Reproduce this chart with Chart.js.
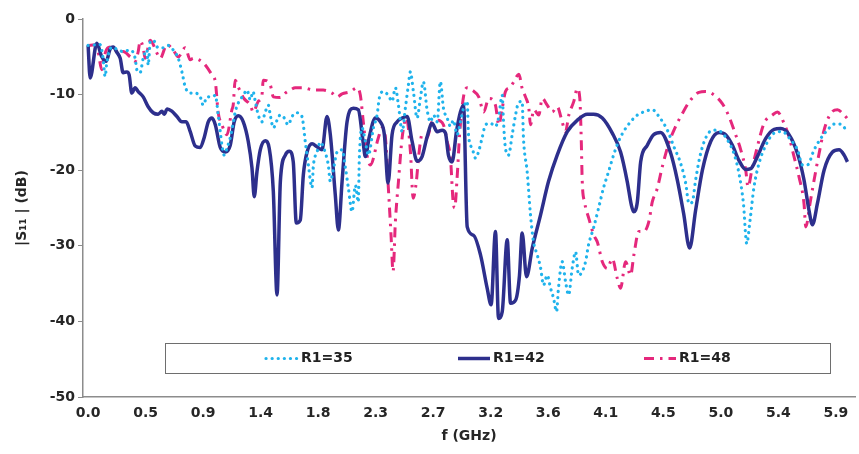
<!DOCTYPE html>
<html>
<head>
<meta charset="utf-8">
<script src="https://cdn.jsdelivr.net/npm/chart.js@4"></script>
<style>
  html, body { margin: 0; padding: 0; background: #fff; }
  canvas { display: block; }
</style>
</head>
<body>
<canvas id="s11Chart" width="859" height="454"></canvas>
<script>
// x axis labels, one every 0.45 GHz (as printed on the figure)
const tickLabels = ['0.0', '0.5', '0.9', '1.4', '1.8', '2.3', '2.7', '3.2', '3.6', '4.1', '4.5', '5.0', '5.4', '5.9'];
const tickStep = 0.45;

const seriesNames = ['R1=35', 'R1=42', 'R1=48'];

// [f (GHz), |S11| (dB)]
const r35 = [[0,-3.5],[0.094,-3.4],[0.117,-5.2],[0.133,-7.6],[0.146,-5.8],[0.186,-3.7],[0.235,-4.1],[0.274,-4.3],[0.329,-4.1],[0.368,-5.2],[0.381,-6.7],[0.407,-7.1],[0.431,-5.2],[0.460,-4.1],[0.470,-6.1],[0.486,-3.0],[0.509,-2.8],[0.548,-3.8],[0.587,-3.8],[0.626,-3.5],[0.666,-4.1],[0.705,-5.2],[0.734,-7.0],[0.760,-9.0],[0.799,-9.8],[0.838,-9.8],[0.877,-10.3],[0.901,-11.4],[0.930,-10.3],[0.969,-10.3],[0.995,-10.1],[1.018,-12.7],[1.034,-14.9],[1.047,-16.7],[1.065,-18.0],[1.086,-17.1],[1.112,-15.7],[1.133,-14.0],[1.151,-12.3],[1.175,-11.1],[1.214,-10.1],[1.243,-9.4],[1.269,-10.7],[1.290,-9.6],[1.308,-10.9],[1.331,-12.7],[1.360,-13.6],[1.386,-12.3],[1.410,-11.4],[1.425,-12.7],[1.449,-14.4],[1.478,-13.4],[1.503,-12.7],[1.527,-12.9],[1.566,-14.0],[1.595,-12.9],[1.634,-12.4],[1.673,-12.9],[1.699,-16.2],[1.723,-19.3],[1.752,-22.3],[1.762,-19.5],[1.791,-17.6],[1.817,-16.3],[1.856,-17.7],[1.879,-19.3],[1.895,-21.5],[1.918,-20.0],[1.948,-17.6],[1.987,-17.3],[2.013,-19.7],[2.036,-22.3],[2.065,-25.5],[2.091,-22.0],[2.114,-24.2],[2.122,-18.4],[2.143,-14.4],[2.169,-16.2],[2.193,-18.0],[2.232,-14.4],[2.261,-12.7],[2.279,-10.4],[2.310,-9.6],[2.349,-10.1],[2.378,-10.9],[2.404,-9.1],[2.428,-11.4],[2.457,-14.9],[2.482,-11.8],[2.506,-8.7],[2.521,-7.0],[2.545,-9.6],[2.574,-13.1],[2.600,-10.4],[2.623,-8.3],[2.652,-12.0],[2.678,-13.6],[2.702,-12.7],[2.731,-13.6],[2.756,-8.3],[2.780,-11.8],[2.809,-13.1],[2.835,-14.2],[2.858,-13.4],[2.887,-15.3],[2.913,-13.6],[2.937,-11.8],[2.966,-10.9],[2.976,-15.3],[3.005,-17.1],[3.031,-18.4],[3.054,-17.6],[3.083,-15.7],[3.109,-14.0],[3.148,-13.8],[3.187,-14.2],[3.211,-13.1],[3.240,-10.1],[3.250,-13.6],[3.265,-17.1],[3.289,-18.0],[3.318,-15.3],[3.344,-12.7],[3.367,-11.1],[3.396,-10.9],[3.406,-15.7],[3.435,-20.2],[3.461,-25.9],[3.485,-29.5],[3.514,-31.2],[3.540,-32.9],[3.563,-35.2],[3.592,-33.9],[3.618,-35.6],[3.641,-36.9],[3.665,-38.7],[3.680,-35.6],[3.709,-32.1],[3.735,-34.7],[3.759,-36.5],[3.788,-32.9],[3.814,-30.8],[3.837,-33.9],[3.866,-33.4],[3.892,-32.1],[3.915,-29.9],[3.955,-27.6],[3.994,-25.0],[4.033,-22.3],[4.072,-20.2],[4.111,-18.0],[4.150,-16.2],[4.189,-14.9],[4.244,-13.6],[4.297,-12.7],[4.346,-12.3],[4.414,-12.0],[4.466,-12.9],[4.532,-14.7],[4.583,-16.9],[4.636,-19.1],[4.675,-21.7],[4.701,-24.4],[4.727,-24.2],[4.753,-21.3],[4.792,-17.8],[4.845,-15.3],[4.897,-14.7],[4.949,-14.9],[5.002,-16.0],[5.053,-17.8],[5.092,-20.4],[5.127,-24.4],[5.153,-29.7],[5.179,-26.6],[5.210,-22.2],[5.249,-19.1],[5.302,-16.7],[5.367,-15.1],[5.432,-14.9],[5.497,-16.0],[5.550,-17.3],[5.589,-19.3],[5.628,-19.3],[5.680,-17.3],[5.732,-15.8],[5.784,-14.7],[5.836,-13.9],[5.888,-13.9],[5.928,-14.6]];

const r42 = [[0,-3.5],[0.016,-7.8],[0.068,-3.2],[0.107,-5.0],[0.141,-5.6],[0.172,-4.0],[0.196,-3.7],[0.225,-4.4],[0.251,-5.2],[0.274,-7.1],[0.303,-7.0],[0.321,-7.4],[0.342,-9.8],[0.368,-9.1],[0.392,-9.6],[0.431,-10.3],[0.470,-11.6],[0.509,-12.4],[0.548,-12.6],[0.577,-12.2],[0.595,-12.6],[0.619,-11.9],[0.655,-12.2],[0.695,-12.9],[0.734,-13.6],[0.767,-13.6],[0.799,-14.9],[0.838,-16.8],[0.877,-17.0],[0.908,-15.7],[0.940,-13.6],[0.969,-13.1],[0.995,-14.0],[1.034,-17.0],[1.073,-17.6],[1.112,-16.7],[1.143,-13.6],[1.175,-12.8],[1.214,-13.6],[1.253,-16.2],[1.282,-19.7],[1.300,-23.5],[1.321,-20.2],[1.347,-17.3],[1.386,-16.1],[1.417,-17.1],[1.449,-22.8],[1.478,-36.5],[1.504,-21.5],[1.543,-18.0],[1.574,-17.5],[1.605,-18.9],[1.629,-27.0],[1.660,-26.6],[1.684,-20.6],[1.713,-17.6],[1.752,-16.5],[1.791,-16.9],[1.830,-17.3],[1.869,-12.9],[1.895,-15.3],[1.934,-23.3],[1.958,-27.9],[1.987,-21.5],[2.026,-13.6],[2.075,-11.8],[2.114,-12.0],[2.151,-16.2],[2.169,-18.2],[2.200,-15.6],[2.247,-13.1],[2.286,-13.6],[2.318,-15.3],[2.347,-21.7],[2.378,-15.3],[2.417,-13.6],[2.457,-13.1],[2.496,-12.9],[2.535,-16.2],[2.574,-18.8],[2.613,-18.2],[2.652,-15.6],[2.691,-13.8],[2.731,-14.9],[2.770,-14.7],[2.796,-15.1],[2.819,-18.0],[2.848,-18.9],[2.882,-14.9],[2.913,-12.3],[2.937,-11.4],[2.966,-27.5],[3.015,-28.6],[3.070,-31.2],[3.122,-35.6],[3.153,-37.8],[3.187,-28.1],[3.211,-39.6],[3.240,-38.7],[3.279,-29.2],[3.305,-37.6],[3.344,-37.2],[3.375,-33.9],[3.396,-28.3],[3.430,-34.1],[3.475,-30.3],[3.540,-25.9],[3.602,-21.5],[3.670,-18.0],[3.749,-14.9],[3.827,-13.4],[3.905,-12.6],[3.955,-12.6],[4.023,-13.1],[4.101,-15.1],[4.166,-17.6],[4.218,-21.5],[4.250,-24.6],[4.268,-25.5],[4.297,-24.2],[4.323,-18.9],[4.375,-16.7],[4.424,-15.3],[4.479,-15.0],[4.557,-17.7],[4.610,-21.3],[4.659,-25.7],[4.706,-30.3],[4.753,-25.3],[4.806,-20.0],[4.871,-16.2],[4.936,-15.0],[4.988,-15.3],[5.041,-16.7],[5.092,-18.7],[5.145,-19.9],[5.184,-19.8],[5.236,-18.2],[5.302,-15.8],[5.367,-14.6],[5.419,-14.5],[5.484,-15.3],[5.550,-17.8],[5.601,-21.3],[5.640,-25.3],[5.667,-27.2],[5.706,-24.4],[5.758,-20.0],[5.824,-17.6],[5.875,-17.3],[5.915,-18.0],[5.941,-18.9]];

const r48 = [[0,-3.5],[0.055,-3.4],[0.078,-4.3],[0.107,-6.7],[0.117,-5.6],[0.157,-3.8],[0.196,-3.7],[0.235,-4.5],[0.274,-4.3],[0.329,-5.0],[0.368,-5.6],[0.392,-4.3],[0.407,-2.9],[0.431,-3.8],[0.446,-5.2],[0.486,-2.8],[0.538,-4.5],[0.564,-5.2],[0.616,-3.4],[0.666,-4.1],[0.705,-5.0],[0.760,-3.8],[0.799,-5.4],[0.822,-5.2],[0.901,-5.8],[0.969,-7.4],[0.995,-8.3],[1.018,-12.4],[1.047,-14.0],[1.086,-15.3],[1.125,-12.0],[1.135,-11.4],[1.151,-8.1],[1.175,-9.0],[1.214,-10.4],[1.269,-11.4],[1.292,-12.3],[1.331,-10.9],[1.360,-10.1],[1.370,-8.1],[1.425,-8.7],[1.449,-10.3],[1.503,-10.4],[1.543,-9.8],[1.582,-9.4],[1.621,-9.1],[1.684,-9.1],[1.762,-9.4],[1.840,-9.4],[1.908,-9.8],[1.948,-10.3],[1.987,-9.9],[2.052,-9.6],[2.104,-9.1],[2.130,-10.1],[2.153,-13.6],[2.182,-18.0],[2.208,-19.3],[2.271,-15.7],[2.300,-14.4],[2.326,-15.7],[2.349,-22.3],[2.370,-28.6],[2.386,-33.4],[2.404,-26.8],[2.428,-21.5],[2.457,-15.7],[2.490,-13.1],[2.522,-17.6],[2.543,-23.7],[2.568,-21.5],[2.587,-18.0],[2.613,-15.3],[2.652,-15.7],[2.691,-13.6],[2.731,-13.4],[2.780,-14.0],[2.809,-16.2],[2.835,-18.4],[2.856,-24.2],[2.868,-25.0],[2.887,-21.0],[2.908,-14.9],[2.939,-10.1],[2.966,-9.1],[3.005,-9.4],[3.056,-10.3],[3.095,-12.3],[3.135,-10.5],[3.187,-11.4],[3.213,-14.0],[3.240,-11.8],[3.265,-9.6],[3.305,-9.0],[3.330,-8.3],[3.370,-7.3],[3.396,-9.2],[3.422,-10.3],[3.448,-11.8],[3.461,-14.0],[3.487,-12.0],[3.526,-12.7],[3.553,-10.5],[3.592,-11.4],[3.631,-12.3],[3.670,-11.6],[3.709,-13.6],[3.735,-14.9],[3.761,-12.7],[3.800,-10.9],[3.827,-9.2],[3.847,-10.5],[3.858,-15.8],[3.866,-21.5],[3.884,-24.2],[3.918,-26.4],[3.957,-28.6],[3.984,-29.5],[4.023,-32.1],[4.062,-33.0],[4.101,-31.7],[4.140,-34.3],[4.166,-35.6],[4.205,-32.1],[4.244,-33.9],[4.270,-31.2],[4.309,-28.1],[4.348,-28.1],[4.387,-26.8],[4.414,-24.2],[4.453,-22.4],[4.493,-19.5],[4.544,-16.4],[4.597,-14.2],[4.649,-12.5],[4.714,-10.7],[4.779,-9.7],[4.831,-9.6],[4.884,-9.9],[4.962,-11.2],[5.014,-12.9],[5.066,-15.3],[5.106,-17.3],[5.145,-20.0],[5.163,-22.2],[5.196,-19.7],[5.236,-16.9],[5.288,-13.8],[5.354,-12.7],[5.393,-12.3],[5.445,-13.8],[5.484,-15.6],[5.523,-18.2],[5.562,-20.9],[5.601,-24.4],[5.615,-27.5],[5.648,-24.4],[5.680,-21.3],[5.719,-17.8],[5.758,-14.7],[5.810,-12.5],[5.863,-12.0],[5.915,-12.7],[5.951,-13.4]];

function toPoints(pairs) {
    return pairs.map(p => ({ x: p[0], y: p[1] }));
}

Chart.defaults.font.family = '"DejaVu Sans", sans-serif';
Chart.defaults.color = '#262626';

const textFont = { size: 14, weight: 'bold' };

// legend drawn as a framed box inside the plot, like the original figure
const boxLegend = {
    id: 'boxLegend',
    afterDatasetsDraw(chart) {
        const ctx = chart.ctx;
        ctx.save();
        ctx.fillStyle = '#fff';
        ctx.fillRect(165, 343, 665, 30);
        ctx.strokeStyle = '#6e6e6e';
        ctx.lineWidth = 1;
        ctx.strokeRect(165.5, 343.5, 665, 30);
        const y = 358.5;
        const starts = [266, 458, 644];
        chart.data.datasets.forEach((ds, i) => {
            ctx.beginPath();
            ctx.strokeStyle = ds.borderColor;
            ctx.lineWidth = ds.borderWidth;
            ctx.lineCap = ds.borderCapStyle || 'butt';
            ctx.setLineDash(ds.borderDash || []);
            ctx.moveTo(starts[i], y);
            ctx.lineTo(starts[i] + 32, y);
            ctx.stroke();
            ctx.setLineDash([]);
            ctx.fillStyle = '#222';
            ctx.font = 'bold 14px "DejaVu Sans"';
            ctx.textBaseline = 'middle';
            ctx.textAlign = 'left';
            ctx.fillText(ds.label, starts[i] + 35, y);
        });
        ctx.restore();
    }
};

const ctx = document.getElementById('s11Chart').getContext('2d');

new Chart(ctx, {
    type: 'line',
    data: {
        datasets: [{
            label: seriesNames[0],
            data: toPoints(r35),
            borderColor: '#1fb3ec',
            borderWidth: 3.2,
            borderDash: [0.1, 6],
            borderCapStyle: 'round',
            pointRadius: 0,
            cubicInterpolationMode: 'monotone'
        }, {
            label: seriesNames[1],
            data: toPoints(r42),
            borderColor: '#2d2f8c',
            borderWidth: 3.5,
            pointRadius: 0,
            cubicInterpolationMode: 'monotone'
        }, {
            label: seriesNames[2],
            data: toPoints(r48),
            borderColor: '#e5287c',
            borderWidth: 3,
            borderDash: [10, 6, 2.5, 6],
            pointRadius: 0,
            cubicInterpolationMode: 'monotone'
        }]
    },
    options: {
        responsive: false,
        animation: false,
        devicePixelRatio: 1,
        layout: { padding: { top: 19, right: 4, left: 0, bottom: 0 } },
        plugins: {
            legend: { display: false },
            tooltip: { enabled: false }
        },
        scales: {
            x: {
                type: 'linear',
                min: -0.04,
                max: 6.0,
                afterBuildTicks: (scale) => {
                    scale.ticks = tickLabels.map((t, i) => ({ value: i * tickStep }));
                },
                afterFit: (scale) => { scale.height = 57; },
                ticks: {
                    autoSkip: false,
                    maxRotation: 0,
                    padding: 8,
                    font: textFont,
                    callback: (value, index) => tickLabels[index]
                },
                grid: { drawOnChartArea: false, drawTicks: false },
                border: { color: '#8c8c8c', width: 1.5 },
                title: {
                    display: true,
                    text: 'f (GHz)',
                    font: textFont,
                    padding: { top: 0, bottom: 9 }
                }
            },
            y: {
                min: -50,
                max: 0,
                afterFit: (scale) => { scale.width = 83; },
                ticks: { stepSize: 10, padding: 3, font: textFont },
                grid: { drawOnChartArea: false, drawTicks: true, tickLength: 5, color: '#8c8c8c' },
                border: { color: '#8c8c8c', width: 1.5 },
                title: {
                    display: true,
                    text: '|S\u2081\u2081 | (dB)',
                    font: textFont,
                    padding: { top: 14, bottom: 0 }
                }
            }
        }
    },
    plugins: [boxLegend]
});
</script>
</body>
</html>
